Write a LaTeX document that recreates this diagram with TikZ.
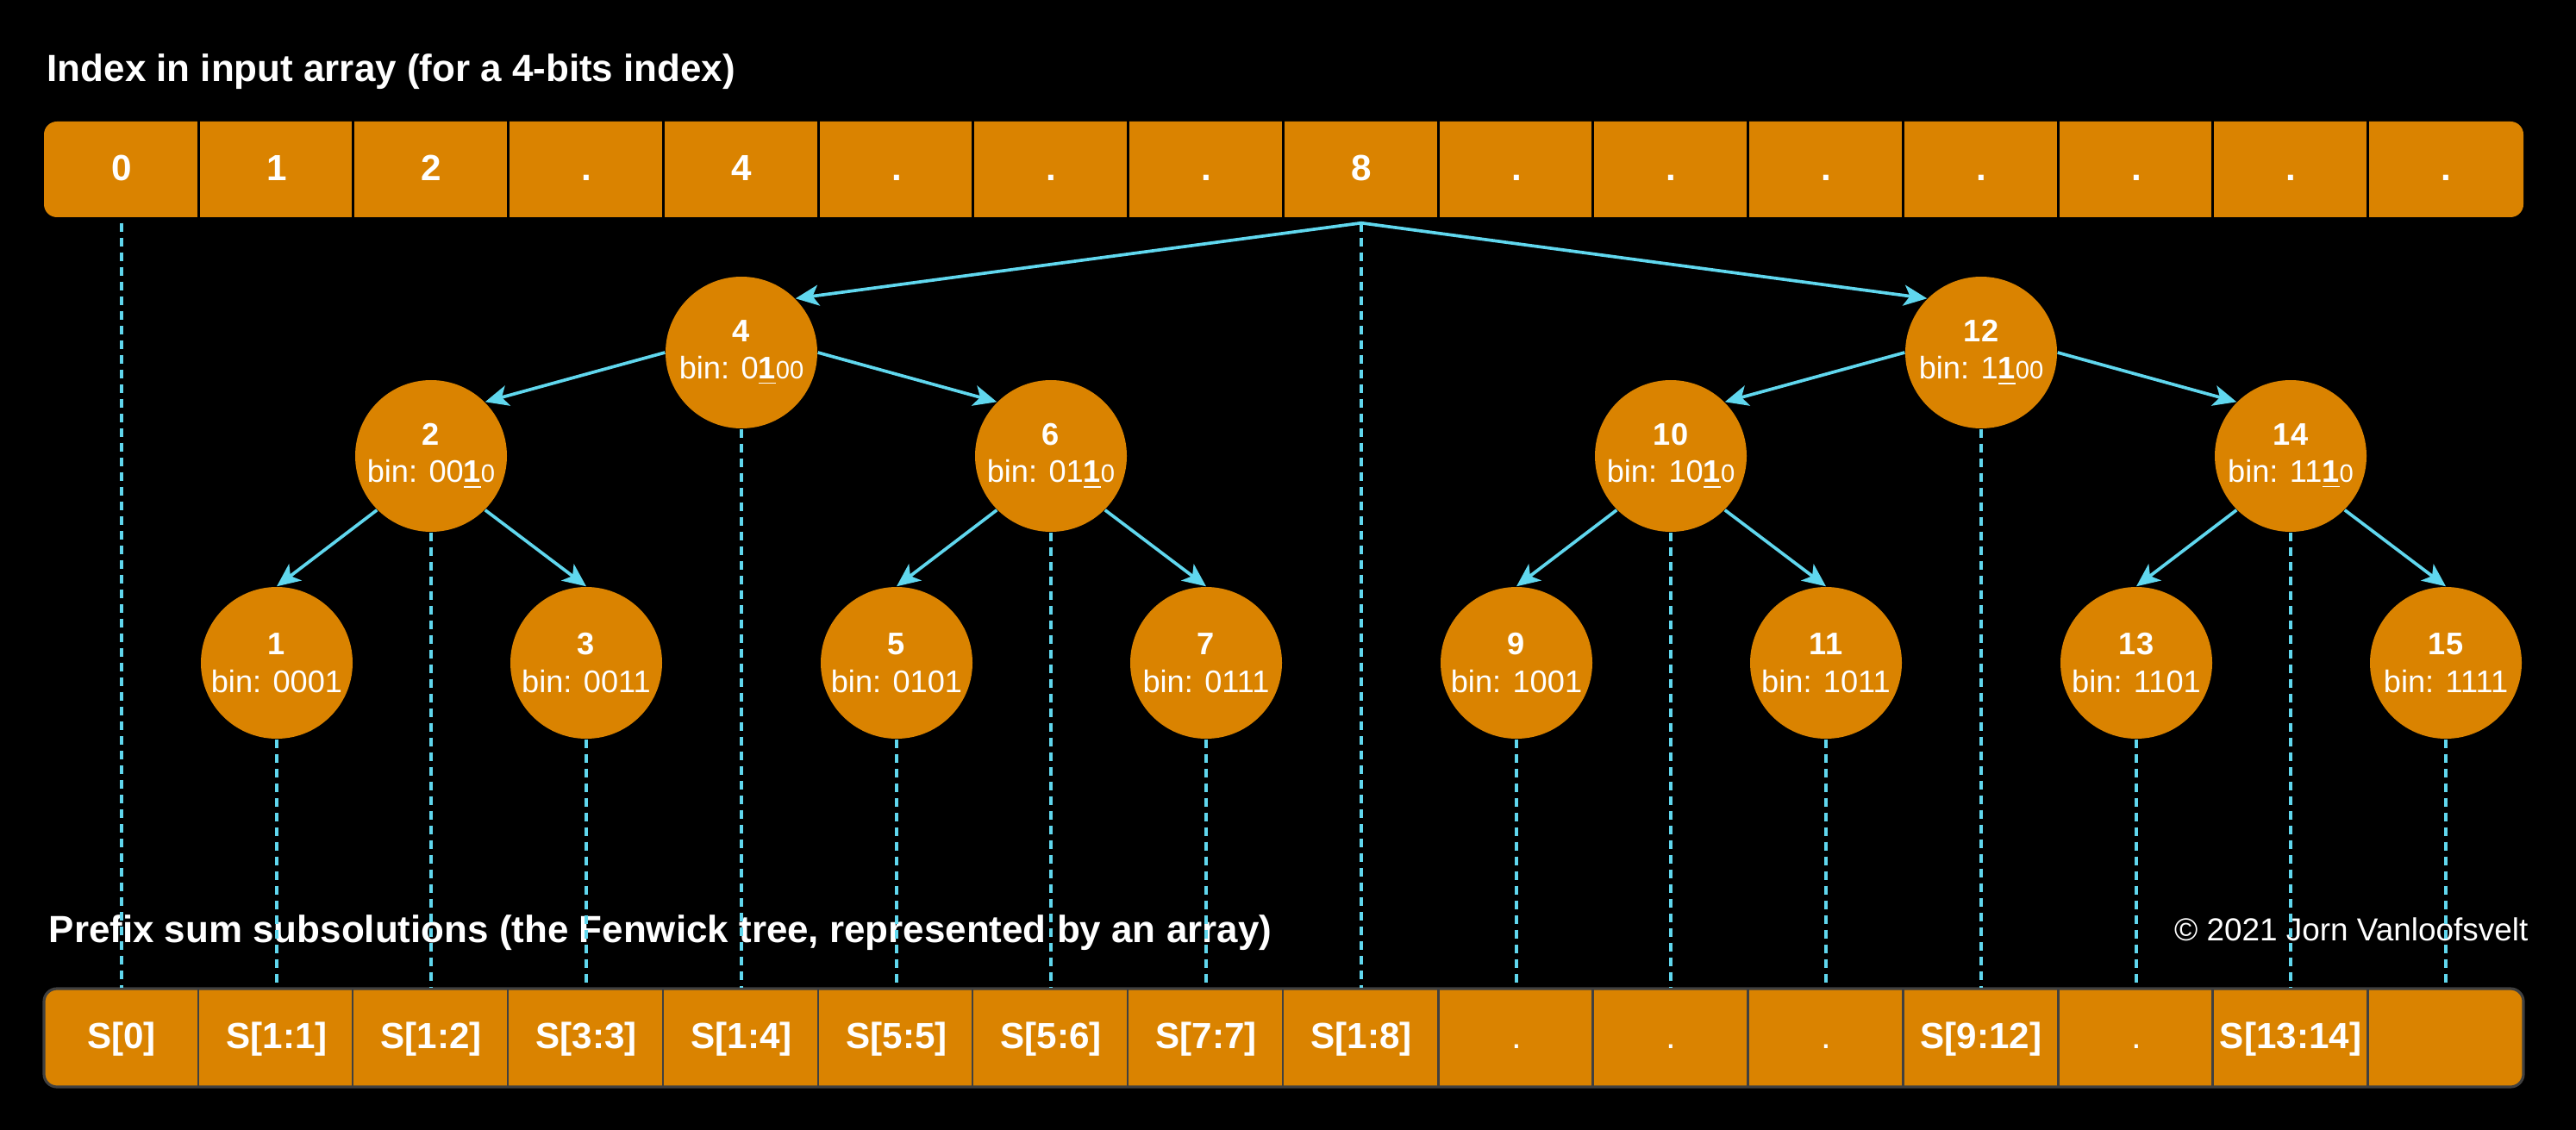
\documentclass[tikz,border=0pt]{standalone}
\usepackage{fontspec}
\setmainfont{Liberation Sans}
\usepackage{tikz}
\usetikzlibrary{arrows.meta,positioning,calc}
\definecolor{fenorange}{RGB}{218,131,0}
\definecolor{fencyan}{RGB}{96,215,238}
\definecolor{fengray}{RGB}{64,64,64}
\newcommand{\binlab}[3]{bin: #1\textbf{\underline{#2}}{\fontsize{8.3}{10}\selectfont #3}}

\begin{document}
\begin{tikzpicture}[
        cell/.style={rectangle, minimum width=1.7975cm, minimum height=1.11cm, inner sep=0pt, text height=0.72em, text depth=0pt, text=white, font=\fontsize{12}{14}\selectfont\bfseries},
        scell/.style={cell, minimum height=1.14cm},
        idx/.style={circle, fill=fenorange, minimum size=1.76cm, inner sep=0pt, align=center, text=white, font=\fontsize{10.3}{12.4}\selectfont},
        heading/.style={inner sep=0pt, text=white, font=\fontsize{12.5}{15}\selectfont\bfseries},
        arrow/.style={line width=1.05pt, -{Stealth[length=0.27cm, width=0.24cm, inset=0.07cm]}, color=fencyan},
        guide/.style={line width=1pt, dash pattern=on 0.1cm off 0.07cm, color=fencyan}
    ]
        \useasboundingbox (0,0) rectangle (29.88,-13.11);
        \fill[black] (0,0) rectangle (29.88,-13.11);

        % Headings
        \node[heading, anchor=base west] (inhead) at (0.54,-0.95) {Index in input array (for a 4-bits index)};
        \node[heading, anchor=base west] (fenhead) at (0.56,-10.93) {Prefix sum subsolutions (the Fenwick tree, represented by an array)};
        \node[inner sep=0pt, text=white, font=\fontsize{10.5}{12}\selectfont, anchor=base east] (copy) at (29.33,-10.91) {© 2021 Jorn Vanloofsvelt};

        % Input array
        \fill[fenorange, rounded corners=0.15cm] (0.51,-1.41) rectangle (29.27,-2.52);
        \node[cell] (c0) at (1.41,-1.965) {0};
        \node[cell] (c1) at (3.21,-1.965) {1};
        \node[cell] (c2) at (5.00,-1.965) {2};
        \node[cell] (c3) at (6.80,-1.965) {.};
        \node[cell] (c4) at (8.60,-1.965) {4};
        \node[cell] (c5) at (10.40,-1.965) {.};
        \node[cell] (c6) at (12.19,-1.965) {.};
        \node[cell] (c7) at (13.99,-1.965) {.};
        \node[cell] (c8) at (15.79,-1.965) {8};
        \node[cell] (c9) at (17.59,-1.965) {.};
        \node[cell] (c10) at (19.38,-1.965) {.};
        \node[cell] (c11) at (21.18,-1.965) {.};
        \node[cell] (c12) at (22.98,-1.965) {.};
        \node[cell] (c13) at (24.78,-1.965) {.};
        \node[cell] (c14) at (26.57,-1.965) {.};
        \node[cell] (c15) at (28.37,-1.965) {.};
        \foreach \i in {1,...,15}
            \draw[black, line width=0.7pt] (c\i.north west) -- (c\i.south west);

        % Fenwick array
        \draw[fengray, line width=0.9pt, fill=fenorange, rounded corners=0.15cm] (0.51,-11.47) rectangle (29.27,-12.61);
        \node[scell] (s0) at (1.41,-12.04) {S[0]};
        \node[scell] (s1) at (3.21,-12.04) {S[1:1]};
        \node[scell] (s2) at (5.00,-12.04) {S[1:2]};
        \node[scell] (s3) at (6.80,-12.04) {S[3:3]};
        \node[scell] (s4) at (8.60,-12.04) {S[1:4]};
        \node[scell] (s5) at (10.40,-12.04) {S[5:5]};
        \node[scell] (s6) at (12.19,-12.04) {S[5:6]};
        \node[scell] (s7) at (13.99,-12.04) {S[7:7]};
        \node[scell] (s8) at (15.79,-12.04) {S[1:8]};
        \node[scell] (s9) at (17.59,-12.04) {\mdseries .};
        \node[scell] (s10) at (19.38,-12.04) {\mdseries .};
        \node[scell] (s11) at (21.18,-12.04) {\mdseries .};
        \node[scell] (s12) at (22.98,-12.04) {S[9:12]};
        \node[scell] (s13) at (24.78,-12.04) {\mdseries .};
        \node[scell] (s14) at (26.57,-12.04) {S[13:14]};
        \node[scell] (s15) at (28.37,-12.04) {};
        \foreach \i in {1,...,15}
            \draw[fengray, line width=0.6pt] (s\i.north west) -- (s\i.south west);

        % Tree nodes
        \node[idx] (n4) at (8.60,-4.09) {\textbf{4}\\\binlab{0}{1}{00}};
        \node[idx] (n12) at (22.98,-4.09) {\textbf{12}\\\binlab{1}{1}{00}};
        \node[idx] (n2) at (5.00,-5.29) {\textbf{2}\\\binlab{00}{1}{0}};
        \node[idx] (n6) at (12.19,-5.29) {\textbf{6}\\\binlab{01}{1}{0}};
        \node[idx] (n10) at (19.38,-5.29) {\textbf{10}\\\binlab{10}{1}{0}};
        \node[idx] (n14) at (26.57,-5.29) {\textbf{14}\\\binlab{11}{1}{0}};
        \node[idx] (n1) at (3.21,-7.69) {\textbf{1}\\bin: 0001};
        \node[idx] (n3) at (6.80,-7.69) {\textbf{3}\\bin: 0011};
        \node[idx] (n5) at (10.40,-7.69) {\textbf{5}\\bin: 0101};
        \node[idx] (n7) at (13.99,-7.69) {\textbf{7}\\bin: 0111};
        \node[idx] (n9) at (17.59,-7.69) {\textbf{9}\\bin: 1001};
        \node[idx] (n11) at (21.18,-7.69) {\textbf{11}\\bin: 1011};
        \node[idx] (n13) at (24.78,-7.69) {\textbf{13}\\bin: 1101};
        \node[idx] (n15) at (28.37,-7.69) {\textbf{15}\\bin: 1111};

        \coordinate (top0) at ([yshift=-0.6mm]c0.south);
        \coordinate (top8) at ([yshift=-0.6mm]c8.south);

        % Tree edges
        \draw[arrow] (top8) -- (n4.north east);
        \draw[arrow] (top8) -- (n12.north west);
        \draw[arrow] (n4.west) -- (n2.north east);
        \draw[arrow] (n4.east) -- (n6.north west);
        \draw[arrow] (n12.west) -- (n10.north east);
        \draw[arrow] (n12.east) -- (n14.north west);
        \draw[arrow] (n2.south west) -- (n1.north);
        \draw[arrow] (n2.south east) -- (n3.north);
        \draw[arrow] (n6.south west) -- (n5.north);
        \draw[arrow] (n6.south east) -- (n7.north);
        \draw[arrow] (n10.south west) -- (n9.north);
        \draw[arrow] (n10.south east) -- (n11.north);
        \draw[arrow] (n14.south west) -- (n13.north);
        \draw[arrow] (n14.south east) -- (n15.north);

        % Index guides down to the array
        \draw[guide] (top0) -- (s0.north);
        \draw[guide] (top8) -- (s8.north);
        \foreach \i in {1,2,3,4,5,6,7,9,10,11,12,13,14,15}
            \draw[guide] (n\i.south) -- (s\i.north);
    \end{tikzpicture}
\end{document}
